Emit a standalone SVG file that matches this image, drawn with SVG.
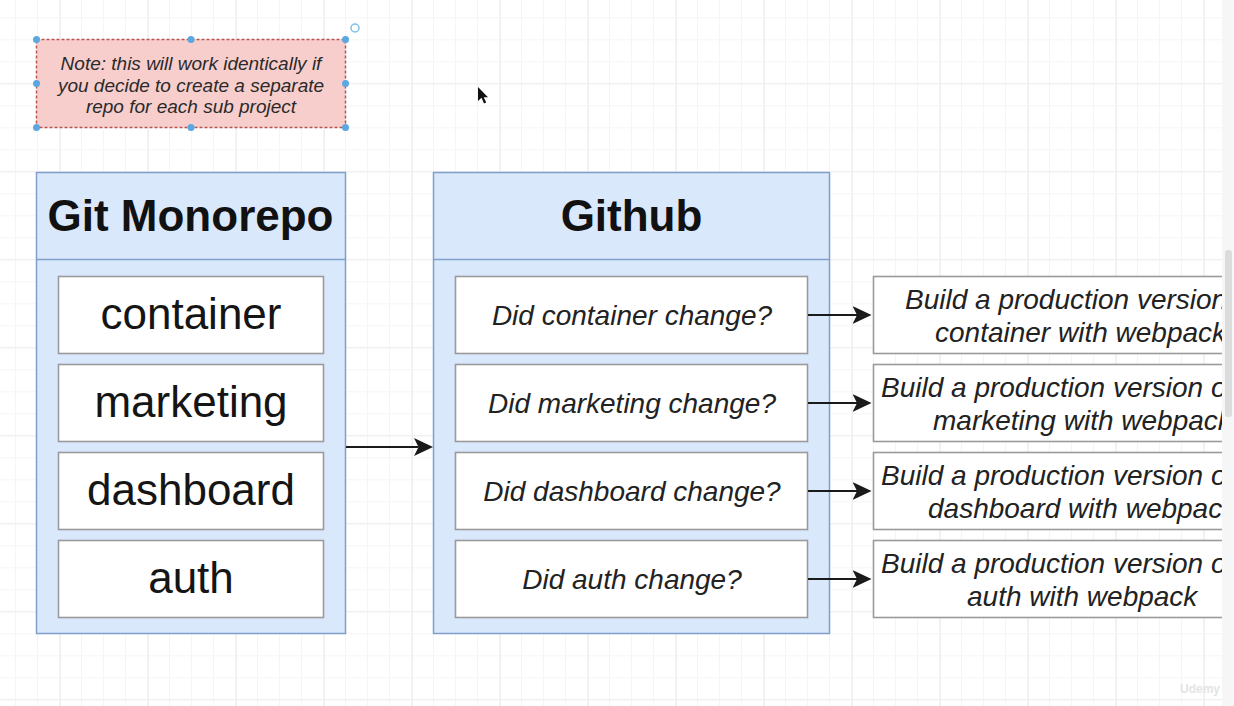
<svg xmlns="http://www.w3.org/2000/svg" width="1234" height="706" viewBox="0 0 1234 706">
  <defs>
    <pattern id="gridMinor" patternUnits="userSpaceOnUse" x="15" y="17.3" width="22" height="22">
      <path d="M0.5 0 V22 M0 0.5 H22" fill="none" stroke="#f5f5f5" stroke-width="1"/>
    </pattern>
    <pattern id="gridMajor" patternUnits="userSpaceOnUse" x="60" y="83.3" width="88" height="88">
      <path d="M0.5 0 V88 M0 0.5 H88" fill="none" stroke="#eeeeee" stroke-width="1"/>
    </pattern>
    <marker id="arrow" markerUnits="userSpaceOnUse" viewBox="0 0 20 18" markerWidth="20" markerHeight="18" refX="4.5" refY="9" orient="auto">
      <path d="M0 0 L19 9 L0 18 L4.5 9 Z" fill="#1a1a1a"/>
    </marker>
    <clipPath id="viewClip">
      <rect x="0" y="0" width="1222" height="706"/>
    </clipPath>
  </defs>
  <style>
    .container { fill: #dae8fc; stroke: #7f9ec9; stroke-width: 1.5; }
    .item { fill: #ffffff; stroke: #9a9a9a; stroke-width: 1.6; }
    .title { font-family: "Liberation Sans", Arial, sans-serif; font-weight: bold; font-size: 44px; fill: #111; text-anchor: middle; }
    .big { font-family: "Liberation Sans", Arial, sans-serif; font-size: 44px; fill: #151515; text-anchor: middle; }
    .q { font-family: "Liberation Sans", Arial, sans-serif; font-style: italic; font-size: 28px; fill: #222; text-anchor: middle; }
    .build { font-family: "Liberation Sans", Arial, sans-serif; font-style: italic; font-size: 28px; fill: #222; }
    .note { font-family: "Liberation Sans", Arial, sans-serif; font-style: italic; font-size: 19px; fill: #2a2a2a; text-anchor: middle; }
    .conn { stroke: #1a1a1a; stroke-width: 2; fill: none; }
    .handle { fill: #5ba7e0; }
  </style>

  <!-- background -->
  <rect x="0" y="0" width="1234" height="706" fill="#ffffff"/>
  <rect x="0" y="0" width="1222" height="706" fill="url(#gridMinor)"/>
  <rect x="0" y="0" width="1222" height="706" fill="url(#gridMajor)"/>

  <!-- note -->
  <g id="note">
    <rect x="36.5" y="39.5" width="309" height="88" fill="#f8cecc" stroke="#b85450" stroke-width="1.5" stroke-dasharray="3 2"/>
    <text class="note" x="191" y="70">Note: this will work identically if</text>
    <text class="note" x="191" y="91.5">you decide to create a separate</text>
    <text class="note" x="191" y="113">repo for each sub project</text>
    <circle class="handle" cx="36.5" cy="39.5" r="3.5"/>
    <circle class="handle" cx="191" cy="39.5" r="3.5"/>
    <circle class="handle" cx="345.5" cy="39.5" r="3.5"/>
    <circle class="handle" cx="36.5" cy="83.5" r="3.5"/>
    <circle class="handle" cx="345.5" cy="83.5" r="3.5"/>
    <circle class="handle" cx="36.5" cy="127.5" r="3.5"/>
    <circle class="handle" cx="191" cy="127.5" r="3.5"/>
    <circle class="handle" cx="345.5" cy="127.5" r="3.5"/>
    <circle cx="355" cy="28" r="4" fill="none" stroke="#7cc0ea" stroke-width="1.5"/>
  </g>

  <!-- cursor -->
  <polygon points="478,87 478,101 481.5,97.8 484,103.5 486.2,102.5 483.7,97.2 488,97.2" fill="#111"/>

  <!-- Git Monorepo -->
  <g id="git-monorepo">
    <rect class="container" x="36.5" y="172.5" width="309" height="461"/>
    <line x1="36.5" y1="259.5" x2="345.5" y2="259.5" stroke="#7f9ec9" stroke-width="1.5"/>
    <text class="title" x="190.5" y="231">Git Monorepo</text>
  </g>
  <g id="repo-container">
    <rect class="item" x="58.5" y="276.5" width="265" height="77"/>
    <text class="big" x="191" y="329">container</text>
  </g>
  <g id="repo-marketing">
    <rect class="item" x="58.5" y="364.5" width="265" height="77"/>
    <text class="big" x="191" y="417">marketing</text>
  </g>
  <g id="repo-dashboard">
    <rect class="item" x="58.5" y="452.5" width="265" height="77"/>
    <text class="big" x="191" y="505">dashboard</text>
  </g>
  <g id="repo-auth">
    <rect class="item" x="58.5" y="540.5" width="265" height="77"/>
    <text class="big" x="191" y="593">auth</text>
  </g>

  <!-- Github -->
  <g id="github">
    <rect class="container" x="433.5" y="172.5" width="396" height="461"/>
    <line x1="433.5" y1="259.5" x2="829.5" y2="259.5" stroke="#7f9ec9" stroke-width="1.5"/>
    <text class="title" x="631.5" y="231">Github</text>
  </g>
  <g id="q-container">
    <rect class="item" x="455.5" y="276.5" width="352" height="77"/>
    <text class="q" x="632" y="325">Did container change?</text>
  </g>
  <g id="q-marketing">
    <rect class="item" x="455.5" y="364.5" width="352" height="77"/>
    <text class="q" x="632" y="413">Did marketing change?</text>
  </g>
  <g id="q-dashboard">
    <rect class="item" x="455.5" y="452.5" width="352" height="77"/>
    <text class="q" x="632" y="501">Did dashboard change?</text>
  </g>
  <g id="q-auth">
    <rect class="item" x="455.5" y="540.5" width="352" height="77"/>
    <text class="q" x="632" y="589">Did auth change?</text>
  </g>

  <!-- Build boxes (clipped at the viewport edge, as in the reference) -->
  <g clip-path="url(#viewClip)">
    <g id="build-container">
      <rect class="item" x="873.5" y="276.5" width="420" height="77"/>
      <text class="build" x="905" y="309">Build a production version of</text>
      <text class="build" x="935" y="342">container with webpack</text>
    </g>
    <g id="build-marketing">
      <rect class="item" x="873.5" y="364.5" width="420" height="77"/>
      <text class="build" x="881" y="397">Build a production version of</text>
      <text class="build" x="933" y="430">marketing with webpack</text>
    </g>
    <g id="build-dashboard">
      <rect class="item" x="873.5" y="452.5" width="420" height="77"/>
      <text class="build" x="881" y="485">Build a production version of</text>
      <text class="build" x="928" y="518">dashboard with webpack</text>
    </g>
    <g id="build-auth">
      <rect class="item" x="873.5" y="540.5" width="420" height="77"/>
      <text class="build" x="881" y="573">Build a production version of</text>
      <text class="build" x="967" y="606">auth with webpack</text>
    </g>
  </g>

  <!-- connectors -->
  <g id="connectors">
    <line class="conn" x1="346" y1="447" x2="418.5" y2="447" marker-end="url(#arrow)"/>
    <line class="conn" x1="808" y1="315" x2="857" y2="315" marker-end="url(#arrow)"/>
    <line class="conn" x1="808" y1="403" x2="857" y2="403" marker-end="url(#arrow)"/>
    <line class="conn" x1="808" y1="491" x2="857" y2="491" marker-end="url(#arrow)"/>
    <line class="conn" x1="808" y1="579" x2="857" y2="579" marker-end="url(#arrow)"/>
  </g>

  <!-- right edge band with scrollbar -->
  <rect x="1222" y="0" width="12" height="706" fill="#f6f6f6"/>
  <rect x="1225" y="250" width="7" height="167" rx="3" fill="#dcdcdc"/>

  <!-- watermark -->
  <text x="1200" y="693" font-family="'Liberation Sans', Arial, sans-serif" font-size="12" font-weight="bold" fill="#e4e4e4" text-anchor="middle">Udemy</text>
</svg>
